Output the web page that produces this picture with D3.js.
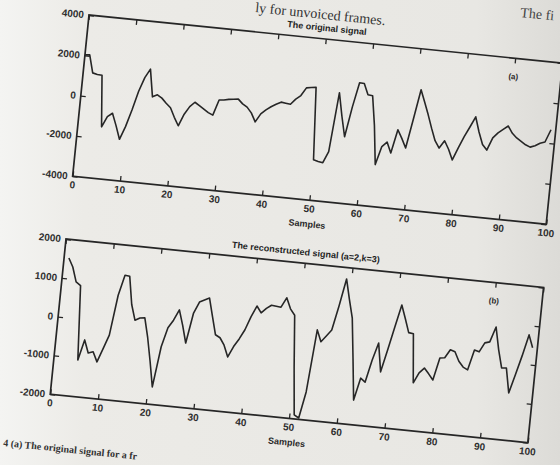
<!DOCTYPE html>
<html>
<head>
<meta charset="utf-8">
<script src="https://cdn.jsdelivr.net/npm/d3@7"></script>
<style>
  body { margin: 0; background: #e9e8e4; overflow: hidden; }
  text { font-family: "Liberation Sans", Arial, sans-serif; }
</style>
</head>
<body>
<script>
// original signal, samples 0..99
var origSignal = [2020, 2044, 1175, 1120, 1106, -1432, -900, -711, -1300, -1955,
  -1300, -450, 500, 1200, 1645, 296, 420, 280, 50, -148,
  -600, -997, -400, 0, 242, 100, -50, -200, -301, 474,
  499, 550, 580, 612, 400, 262, 0, -420, 0, 222,
  400, 550, 677, 650, 622, 900, 1100, 1506, 1550, 1585,
  -1990, -2050, -2089, -1516, 1432, 300, -706, 800, 2020, 2005,
  1477, 1447, 0, -1921, -1000, -755, -1269, -94, -500, -953,
  500, 1985, 1400, 800, 150, -450, -790, -405, -800, -1308,
  -681, -100, 400, 928, 200, -400, -652, -20, 250, 450,
  637, 300, 94, -50, -200, -291, -200, -50, 35, 667];

// reconstructed signal, samples 1..99
var reconSignal = [1523, 1303, 931, 850, -1056, -526, -850, -808, -1054, -700,
  -338, 700, 1228, 1213, 500, 108, 177, 195, -300, -900,
  -1549, -503, 0, 208, 485, 100, -343, 441, 738, 800,
  864, 400, -56, -120, -300, -590, -310, -100, 149, 500,
  785, 620, 749, 844, 830, 818, 1072, 800, 649, -700,
  -1895, -1964, -1279, 333, 39, 200, 367, 1000, 1708, 1200,
  726, -300, -1364, -787, -877, -300, 156, -574, 0, 600,
  1187, 850, 500, 482, -769, -500, -364, -500, -646, -67,
  -49, 172, 131, -100, -238, -297, 228, 192, 436, 474,
  869, 300, -161, -151, -779, -300, 200, 754, 436];

var xTicks = [0, 10, 20, 30, 40, 50, 60, 70, 80, 90, 100];
var origYTicks = [-4000, -2000, 0, 2000, 4000];
var reconYTicks = [-2000, -1000, 0, 1000, 2000];

var svg = d3.select("body").append("svg")
    .attr("width", 560).attr("height", 465);

// paper background
var grad = svg.append("defs").append("linearGradient").attr("id", "paper");
grad.append("stop").attr("offset", "0%").attr("stop-color", "#f4f4f2");
grad.append("stop").attr("offset", "15%").attr("stop-color", "#ecebe7");
grad.append("stop").attr("offset", "85%").attr("stop-color", "#e8e7e3");
grad.append("stop").attr("offset", "100%").attr("stop-color", "#dcdbd7");
svg.append("rect").attr("width", 560).attr("height", 465).attr("fill", "url(#paper)");

var ink = "#262626";
var tilt = 5.8;

// page text around the figure
svg.append("text").attr("transform", "translate(255,12) rotate(" + tilt + ")")
    .style("font-family", "Liberation Serif, serif")
    .attr("font-size", 14).attr("fill", "#333").text("ly for unvoiced frames.");
svg.append("text").attr("transform", "translate(520,17) rotate(" + tilt + ")")
    .style("font-family", "Liberation Serif, serif")
    .attr("font-size", 14).attr("fill", "#444").text("The fi");
svg.append("text").attr("transform", "translate(3,446) rotate(" + tilt + ")")
    .style("font-family", "Liberation Serif, serif").attr("font-weight", "bold")
    .attr("font-size", 10).attr("fill", "#333").text("4  (a) The original signal for a fr");

function drawPanel(x0, y0, w, h, samples, values, yTicks, title, tag) {
    var g = svg.append("g").attr("transform", "translate(" + x0 + "," + y0 + ") rotate(" + tilt + ")");
    var x = d3.scaleLinear().domain([0, 100]).range([0, w]);
    var y = d3.scaleLinear().domain([yTicks[0], yTicks[yTicks.length - 1]]).range([h, 0]);

    var fmt = function(d) { return String(d); };
    var ax = [
        [d3.axisBottom(x).tickValues(xTicks).tickFormat(fmt), "translate(0," + h + ")"],
        [d3.axisTop(x).tickValues(xTicks).tickFormat(""), "translate(0,0)"],
        [d3.axisLeft(y).tickValues(yTicks).tickFormat(fmt), "translate(0,0)"],
        [d3.axisRight(y).tickValues(yTicks).tickFormat(""), "translate(" + w + ",0)"]
    ];
    ax.forEach(function(a) {
        var gg = g.append("g").attr("transform", a[1])
            .call(a[0].tickSizeInner(-5).tickSizeOuter(0).tickPadding(5));
        gg.select(".domain").remove();
        gg.selectAll("line").attr("stroke", ink).attr("stroke-width", 1.3);
        gg.selectAll("text").attr("fill", "#2e2e2e").attr("font-size", 10)
            .attr("font-weight", "bold").attr("font-family", null);
    });

    g.append("rect").attr("width", w).attr("height", h)
        .attr("fill", "none").attr("stroke", ink).attr("stroke-width", 1.7);

    var line = d3.line().x(function(d, i) { return x(samples[i]); }).y(function(d) { return y(d); });
    g.append("path").datum(values).attr("d", line)
        .attr("fill", "none").attr("stroke", ink).attr("stroke-width", 1.6)
        .attr("stroke-linejoin", "round");

    g.append("text").attr("x", w / 2).attr("y", -8).attr("text-anchor", "middle")
        .attr("font-size", 9).attr("font-weight", "bold").attr("fill", "#1e1e1e").text(title);
    g.append("text").attr("x", w / 2).attr("y", h + 27).attr("text-anchor", "middle")
        .attr("font-size", 9).attr("font-weight", "bold").attr("fill", "#2a2a2a").text("Samples");
    g.append("text").attr("x", w * 0.9).attr("y", 21).attr("text-anchor", "middle")
        .attr("font-size", 8).attr("font-weight", "bold").attr("fill", "#2a2a2a").text(tag);
}

drawPanel(89, 15, 476, 162, d3.range(0, 100), origSignal, origYTicks, "The original signal", "(a)");
drawPanel(66, 239, 480, 156, d3.range(1, 100), reconSignal, reconYTicks, "The reconstructed signal (a=2,k=3)", "(b)");
</script>
</body>
</html>
